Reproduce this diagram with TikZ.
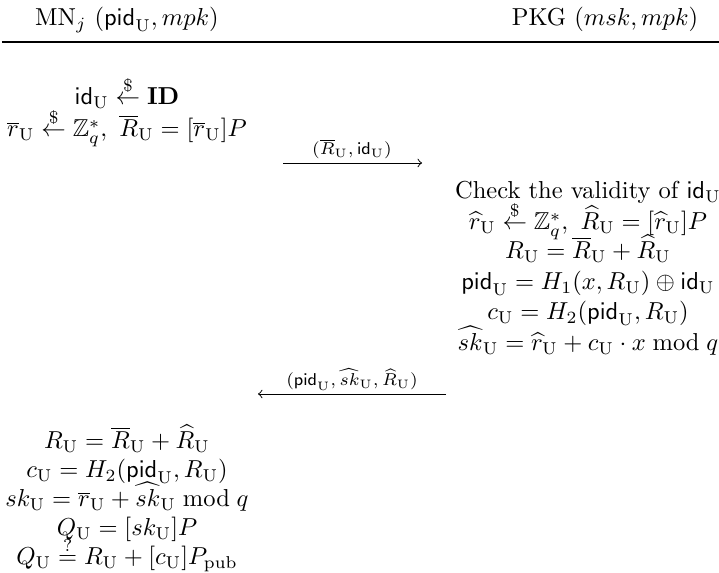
\documentclass[tikz,border=0pt]{standalone}
\usepackage{amsmath,amssymb}
\newcommand{\idU}{\mathsf{id}_{\mathrm{U}}}
\newcommand{\pidU}{\mathsf{pid}_{\mathrm{U}}}
\newcommand{\U}{\mathrm{U}}
\newcommand{\rnd}{\stackrel{\$}{\leftarrow}}
\begin{document}
\begin{tikzpicture}[x=0.408pt,y=-0.408pt,
  lbl/.style={anchor=base,inner sep=0pt},
  msglbl/.style={anchor=base,inner sep=0pt,font=\scriptsize},
  msg/.style={->,>=to,line width=0.4pt}]
\useasboundingbox (0,0) rectangle (719,573);
% headers
\node[lbl] (h1) at (127,26) {MN$_j$ ($\mathsf{pid}_{\mathrm{U}}, mpk$)};
\node[lbl] (h2) at (605,26) {PKG ($msk, mpk$)};
\coordinate (rl) at (2,42);
\coordinate (rr) at (719,42);
\draw[line width=0.6pt] (rl) -- (rr);
% left, first part
\node[lbl] (l1) at (127,105) {$\idU \rnd \mathbf{ID}$};
\node[lbl] (l2) at (127,137) {$\overline{r}_\U \rnd \mathbb{Z}_q^*,\ \overline{R}_\U = [\overline{r}_\U]P$};
% message 1
\coordinate (m1a) at (283,163);
\coordinate (m1b) at (422,163);
\draw[msg] (m1a) -- (m1b);
\node[msglbl] (m1l) at (352,155) {$(\overline{R}_\U,\idU)$};
% right
\node[lbl] (r1) at (588,199) {Check the validity of $\idU$};
\node[lbl] (r2) at (588,230) {$\widehat{r}_\U \rnd \mathbb{Z}_q^*,\ \widehat{R}_\U = [\widehat{r}_\U]P$};
\node[lbl] (r3) at (588,259) {$R_\U = \overline{R}_\U + \widehat{R}_\U$};
\node[lbl] (r4) at (588,290) {$\pidU = H_1(x, R_\U) \oplus \idU$};
\node[lbl] (r5) at (588,320) {$c_\U = H_2(\pidU, R_\U)$};
\node[lbl] (r6) at (588,351) {$\widehat{sk}_\U = \widehat{r}_\U + c_\U \cdot x \bmod q$};
% message 2
\coordinate (m2a) at (446,394);
\coordinate (m2b) at (258,394);
\draw[msg] (m2a) -- (m2b);
\node[msglbl] (m2l) at (352,386) {$(\pidU,\widehat{sk}_\U,\widehat{R}_\U)$};
% left, second part
\node[lbl] (l3) at (127,449) {$R_\U = \overline{R}_\U + \widehat{R}_\U$};
\node[lbl] (l4) at (127,478) {$c_\U = H_2(\pidU, R_\U)$};
\node[lbl] (l5) at (127,507) {$sk_\U = \overline{r}_\U + \widehat{sk}_\U \bmod q$};
\node[lbl] (l6) at (127,536) {$Q_\U = [sk_\U]P$};
\node[lbl] (l7) at (127,565) {$Q_\U \stackrel{?}{=} R_\U + [c_\U]P_{\mathrm{pub}}$};
\end{tikzpicture}
\end{document}
